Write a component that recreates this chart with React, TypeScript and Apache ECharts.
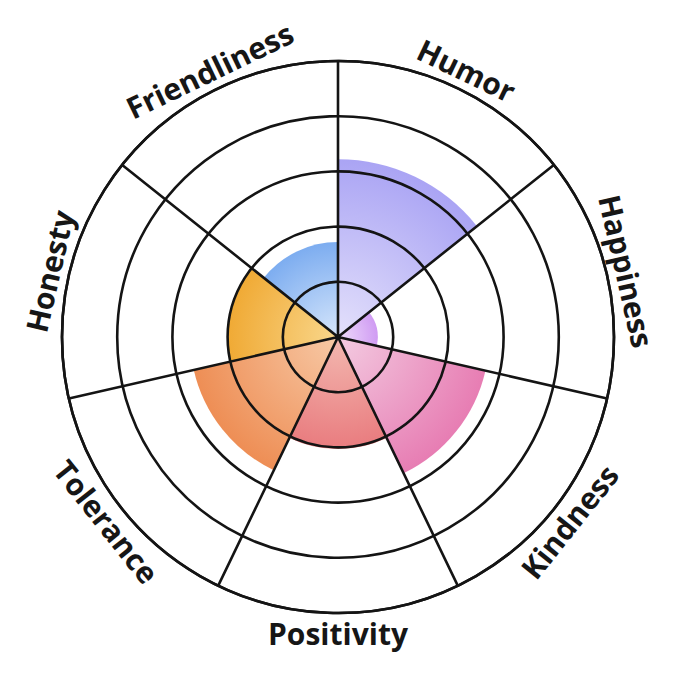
import React, { useEffect, useRef } from "react";
import * as echarts from "echarts";

const categories = ["Humor", "Happiness", "Kindness", "Positivity", "Tolerance", "Honesty", "Friendliness"];
const values = [3.22, 0.72, 2.74, 2.03, 2.68, 1.99, 1.72];
const innerColors = ["#e4e1fb", "#efdcfb", "#f3cbe1", "#f3b8b0", "#f7c9a6", "#f9d78c", "#d6e6fb"];
const outerColors = ["#aaa4f4", "#d09cf3", "#e77db3", "#e97c7f", "#ee8e55", "#f0aa35", "#7dadf0"];
const ringMax = 5;

const CX = 338;
const CY = 337;
const R = 276;
const LABEL_R = 296;

export default function App() {
  const ref = useRef<HTMLDivElement>(null);
  useEffect(() => {
    if (!ref.current) return;
    const chart = echarts.init(ref.current, null, { renderer: "svg" });
    const unit = R / ringMax;
    const data = values.map((v, i) => ({
      value: v,
      itemStyle: {
        color: new echarts.graphic.RadialGradient(
          CX,
          CY,
          v * unit,
          [
            { offset: 0, color: innerColors[i] },
            { offset: 1, color: outerColors[i] },
          ],
          true
        ),
      },
    }));
    const n = categories.length;
    const labels = categories.map((c, i) => {
      const th = ((i + 0.5) * 360) / n;
      const rad = (th * Math.PI) / 180;
      const cw = th > 90 && th < 270 ? th - 180 : th;
      return {
        type: "text",
        x: CX + LABEL_R * Math.sin(rad),
        y: CY - LABEL_R * Math.cos(rad),
        rotation: (-cw * Math.PI) / 180,
        z: 100,
        style: {
          text: c,
          x: 0,
          y: 0,
          textAlign: "center",
          textVerticalAlign: "middle",
          align: "center",
          verticalAlign: "middle",
          fontSize: 30,
          fontWeight: 700,
          fontFamily: "Open Sans",
          fill: "#161616",
        },
      };
    });
    chart.setOption({
      animation: false,
      backgroundColor: "#ffffff",
      polar: { center: [CX, CY], radius: R },
      angleAxis: {
        type: "category",
        data: categories,
        startAngle: 90,
        clockwise: true,
        z: 10,
        axisLine: { show: true, lineStyle: { color: "#141414", width: 2.6 } },
        axisTick: { show: false },
        axisLabel: { show: false },
        splitLine: { show: true, lineStyle: { color: "#141414", width: 2.6 } },
      },
      radiusAxis: {
        type: "value",
        min: 0,
        max: ringMax,
        interval: 1,
        z: 10,
        axisLine: { show: false },
        axisTick: { show: false },
        axisLabel: { show: false },
        splitLine: { show: true, lineStyle: { color: "#141414", width: 2.6 } },
      },
      series: [
        {
          type: "bar",
          coordinateSystem: "polar",
          barCategoryGap: "0%",
          data,
          z: 2,
        },
      ],
      graphic: labels,
    });
    return () => chart.dispose();
  }, []);
  return (
    <div
      ref={ref}
      style={{ position: "fixed", left: 0, top: 0, width: 680, height: 680 }}
    />
  );
}
